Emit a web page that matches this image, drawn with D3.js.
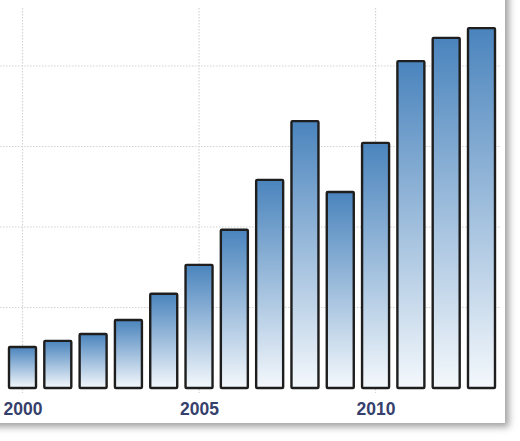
<!DOCTYPE html>
<html>
<head>
<meta charset="utf-8">
<script src="https://cdn.jsdelivr.net/npm/d3@7"></script>
<style>
  html, body { margin: 0; padding: 0; background: #fff; }
  svg { display: block; }
</style>
</head>
<body>
<script>
const years = [2000,2001,2002,2003,2004,2005,2006,2007,2008,2009,2010,2011,2012,2013];
const values = [10.2,11.7,13.4,16.9,23.4,30.6,39.3,51.7,66.3,48.7,60.9,81.2,87.0,89.4];
const yTicks = [20,40,60,80];
const xTickLabels = [2000,2005,2010];

const W = 520, H = 441;
const svg = d3.select("body").append("svg").attr("width", W).attr("height", H);
const defs = svg.append("defs");

const filt = defs.append("filter").attr("id","shadow")
  .attr("x","-10%").attr("y","-10%").attr("width","130%").attr("height","130%");
filt.append("feDropShadow").attr("dx",4).attr("dy",4).attr("stdDeviation",3.5)
  .attr("flood-color","#8a8a8a").attr("flood-opacity",0.8);

const grad = defs.append("linearGradient").attr("id","barGrad")
  .attr("x1",0).attr("y1",0).attr("x2",0).attr("y2",1);
grad.append("stop").attr("offset","0%").attr("stop-color","#4a84bd");
grad.append("stop").attr("offset","100%").attr("stop-color","#f4f8fc");

// panel
svg.append("rect").attr("x",-30).attr("y",-30).attr("width",535).attr("height",453)
  .attr("fill","#fff").attr("filter","url(#shadow)");

const x = d3.scaleLinear().domain([2000, 2013]).range([22.5, 481.5]);
const y = d3.scaleLinear().domain([0, 80]).range([388, 66]);
const barW = 27;

const grid = svg.append("g");
grid.selectAll("line.h").data(yTicks).join("line")
  .attr("x1",0).attr("x2",500)
  .attr("y1",d=>y(d)).attr("y2",d=>y(d))
  .attr("stroke","#d4d4d4").attr("stroke-width",1.2).attr("stroke-dasharray","1.5,1.5");
grid.selectAll("line.v").data(xTickLabels).join("line")
  .attr("x1",d=>x(d)).attr("x2",d=>x(d))
  .attr("y1",8).attr("y2",393)
  .attr("stroke","#d4d4d4").attr("stroke-width",1.2).attr("stroke-dasharray","1.5,1.5");

svg.append("g").selectAll("rect").data(years).join("rect")
  .attr("x",(d)=>x(d)-barW/2)
  .attr("y",(d,i)=>y(values[i]))
  .attr("width",barW)
  .attr("height",(d,i)=>y(0)-y(values[i]))
  .attr("fill","url(#barGrad)")
  .attr("stroke","#1e1e1e").attr("stroke-width",2.4)
  .attr("stroke-linejoin","round")
  .attr("rx",1);

const xAxis = d3.axisBottom(x).tickValues(xTickLabels).tickFormat(d3.format("d")).tickSize(0).tickPadding(0);
const ax = svg.append("g").attr("transform","translate(0,388)").call(xAxis);
ax.select(".domain").remove();
ax.selectAll("text")
  .attr("dy",0).attr("y",26.5)
  .attr("font-family","'Liberation Sans', Arial, sans-serif")
  .attr("font-size",17.5).attr("font-weight","bold")
  .attr("fill","#36406c");
</script>
</body>
</html>
